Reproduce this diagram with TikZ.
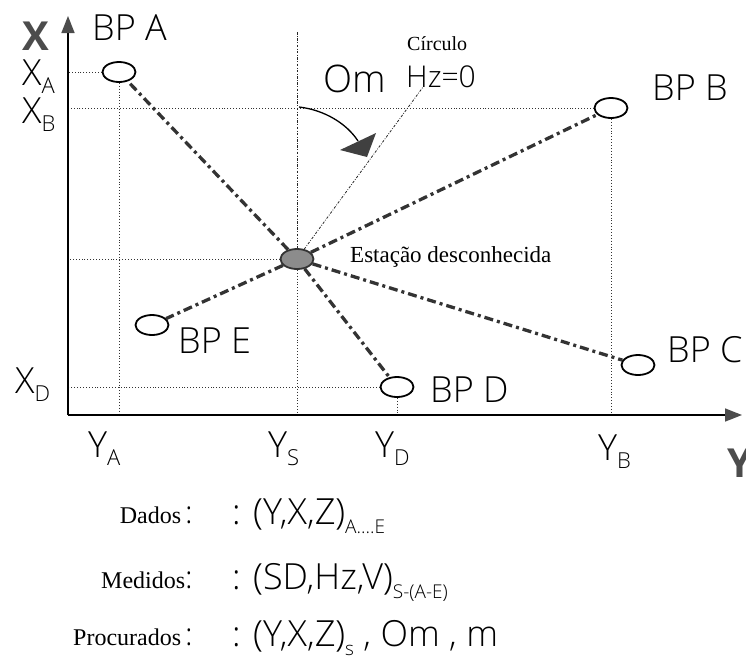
\documentclass[tikz,border=0pt]{standalone}
\usepackage{fontspec}
\setmainfont{Liberation Serif}
\IfFontExistsTF{Open Sans Light}{\setsansfont{Open Sans Light}[BoldFont={Open Sans Bold}]}{\setsansfont{Open Sans}}
\usetikzlibrary{shapes.geometric,arrows.meta}
\newcommand{\lsub}[2][8pt]{\raisebox{-#1}{\fontsize{22}{22}\selectfont #2}}
\newcommand{\bsub}[1]{\raisebox{-9pt}{\fontsize{19}{19}\selectfont #1}}
\begin{document}
\begin{tikzpicture}[x=1pt,y=-1pt,
  bp/.style={draw,ellipse,minimum width=33pt,minimum height=20pt,inner sep=0pt,line width=1.8pt},
  ray/.style={line width=3.3pt,dash pattern=on 9pt off 4pt on 3pt off 4pt,black!80},
  guide/.style={line width=0.9pt,dotted,black!80},
  fine/.style={line width=0.8pt,dash pattern=on 2.5pt off 1.5pt on 0.8pt off 1.5pt,black!85},
  axisline/.style={line width=1.6pt,-{Triangle[length=17pt,width=13pt,color=black!70]}},
  lab/.style={font=\sffamily\fontsize{36}{36}\selectfont,inner sep=0pt,anchor=base west},
  big/.style={font=\sffamily\bfseries\fontsize{40}{40}\selectfont,text=black!70,inner sep=0pt,anchor=base west},
  serif/.style={inner sep=0pt,anchor=base west},
  row/.style={font=\sffamily\fontsize{36}{36}\selectfont,inner sep=0pt,anchor=base west},
  rowlab/.style={inner sep=0pt,anchor=base east}
]
\useasboundingbox (0,0) rectangle (746,662);
\coordinate (O) at (68,415);
\coordinate (Ytop) at (68,16);
\coordinate (Xend) at (742,415);
% points
\node[bp] (A) at (119,72) {};
\node[bp] (B) at (611,108) {};
\node[bp] (C) at (638,365) {};
\node[bp] (D) at (397,387) {};
\node[bp] (E) at (152,325) {};
\node[bp,fill=black!45,draw=black!80] (S) at (297,259) {};
% guides
\draw[guide] (A.west) -- (A.west -| O);
\draw[guide] (A.south) -- (A.south |- O);
\draw[guide] (B.west) -- (B.west -| O);
\draw[guide] (B.south) -- (B.south |- O);
\draw[guide] (S.west) -- (S.west -| O);
\draw[guide] (D.west) -- (D.west -| O);
\draw[guide] (D.south) -- (D.south |- O);
\coordinate (Stop) at (297,32);
\draw[fine] (Stop) -- (S.north);
\draw[guide] (S.south) -- (S.south |- O);
\coordinate (H) at (423,87);
\draw[fine] (S) -- (H);
% axes
\draw[axisline] (O) -- (Ytop);
\draw[axisline] (O) -- (Xend);
% rays
\draw[ray] (S) -- (A);
\draw[ray] (S) -- (B);
\draw[ray] (S) -- (C);
\draw[ray] (S) -- (D);
\draw[ray] (S) -- (E);
% Om arc
\coordinate (Om1) at (299,107);
\coordinate (Om2) at (358,141);
\draw[line width=1.3pt] (Om1) .. controls (325,110) and (347,124) .. (Om2);
\fill[black!75] (340,150) -- (376,133) -- (367,157) -- cycle;
% labels
\node[big] (Xl) at (22,50) {X};
\node[big] (Yl) at (727,477) {Y};
\node[lab] (lA) at (92,40) {BP A};
\node[lab] (lB) at (652,100) {BP B};
\node[lab] (lC) at (667,362) {BP C};
\node[lab] (lD) at (430,402) {BP D};
\node[lab] (lE) at (178,353) {BP E};
\node[lab,font=\sffamily\fontsize{38}{38}\selectfont] (lOm) at (323,92) {Om};
\node[lab,font=\sffamily\fontsize{30}{30}\selectfont] (lHz) at (406,87) {Hz=0};
\node[serif,font=\fontsize{20}{20}\selectfont] (lCi) at (407,50) {Círculo};
\node[serif,font=\fontsize{23}{23}\selectfont] (lS) at (350,262) {Estação desconhecida};
\node[lab] (xa) at (22,85) {X\lsub{A}};
\node[lab] (xb) at (22,123) {X\lsub{B}};
\node[lab] (xd) at (15,393) {X\lsub{D}};
\node[lab] (ya) at (88,457) {Y\lsub{A}};
\node[lab] (ys) at (268,457) {Y\lsub{S}};
\node[lab] (yd) at (375,457) {Y\lsub{D}};
\node[lab] (yb) at (598,460) {Y\lsub{B}};
% bottom rows
\node[rowlab] (r1) at (193,523) {\fontsize{24}{24}\selectfont Dados\,{\sffamily\fontsize{32}{32}\selectfont :}};
\node[row] (v1) at (232,524) {: (Y,X,Z)\bsub{A....E}};
\node[rowlab] (r2) at (193,588) {\fontsize{24}{24}\selectfont Medidos{\sffamily\fontsize{32}{32}\selectfont :}};
\node[row] (v2) at (232,589) {: (SD,Hz,V)\bsub{S-(A-E)}};
\node[rowlab] (r3) at (193,645) {\fontsize{24}{24}\selectfont Procurados\,{\sffamily\fontsize{32}{32}\selectfont :}};
\node[row] (v3) at (232,646) {: (Y,X,Z)\bsub{s} , Om , m};
\end{tikzpicture}
\end{document}
